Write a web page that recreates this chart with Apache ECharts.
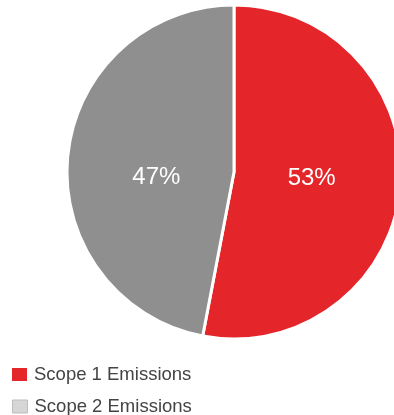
<!DOCTYPE html>
<html><head><meta charset="utf-8">
<script src="https://cdn.jsdelivr.net/npm/echarts@6/dist/echarts.min.js"></script>
<style>html,body{margin:0;padding:0;background:#fff}#c{width:394px;height:415px}</style>
</head><body><div id="c"></div>
<script>
const categories = ['Scope 1 Emissions', 'Scope 2 Emissions'];
const values = [53, 47];
const sliceColors = ['#e4262a', '#8f8f8f'];
const legendColors = ['#e4262a', '#d6d6d6'];

const chart = echarts.init(document.getElementById('c'), null, {renderer: 'canvas'});
const data = categories.map((n, i) => ({name: n, value: values[i], itemStyle: {color: sliceColors[i]}}));
const legendTops = [365, 397];
chart.setOption({
  animation: false,
  legend: categories.map((n, i) => ({
    orient: 'vertical', left: 12, top: legendTops[i], padding: 0,
    itemWidth: 15, itemHeight: 13, itemGap: 7,
    textStyle: {fontFamily: 'Liberation Sans, Arial', fontSize: 18.5, color: '#444', padding: [0, 0, 0, 2]},
    data: [{name: n, icon: 'rect', itemStyle: {color: legendColors[i], borderColor: i === 1 ? '#bdbdbd' : legendColors[i], borderWidth: i === 1 ? 1 : 0}}]
  })),
  series: [{
    type: 'pie', center: [234, 172], radius: [0, 167], startAngle: 90, clockwise: true,
    silent: true,
    itemStyle: {borderColor: '#fff', borderWidth: 3},
    label: {show: false}, labelLine: {show: false},
    data: data
  }, {
    type: 'pie', center: [234, 172], radius: [0, 150], startAngle: 90, clockwise: true,
    silent: true,
    itemStyle: {color: 'rgba(0,0,0,0)', borderWidth: 0},
    label: {show: true, position: 'inside', formatter: '{c}%', color: '#fff', fontSize: 24, fontFamily: 'Liberation Sans, Arial'},
    labelLine: {show: false},
    data: categories.map((n, i) => ({name: n, value: values[i], itemStyle: {color: 'rgba(0,0,0,0)'},
      label: {offset: i === 0 ? [0, -1] : [0, 13]}}))
  }]
});
</script></body></html>
